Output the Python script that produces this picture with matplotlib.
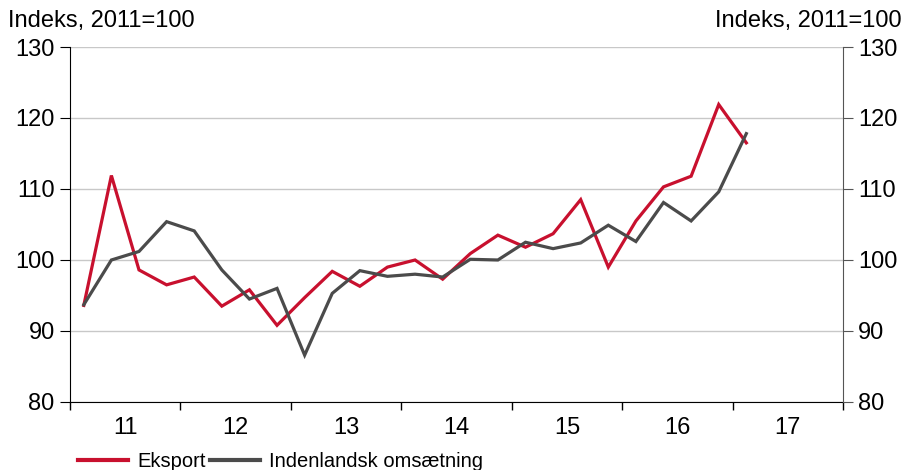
import matplotlib.pyplot as plt
from matplotlib.lines import Line2D

plt.rcParams['font.family'] = ['Liberation Sans', 'DejaVu Sans']

# quarterly, 2011Q1 - 2017Q1
years = [2011] * 4 + [2012] * 4 + [2013] * 4 + [2014] * 4 + [2015] * 4 + [2016] * 4 + [2017]
quarters = [1, 2, 3, 4] * 6 + [1]
eksport = [93.6, 111.9, 98.6, 96.5, 97.6, 93.5, 95.8, 90.8,
           94.7, 98.4, 96.3, 99.0, 100.0, 97.3, 100.9, 103.5,
           101.8, 103.7, 108.5, 99.0, 105.5, 110.3, 111.8, 121.9, 116.5]
indenlandsk = [93.7, 100.0, 101.2, 105.4, 104.1, 98.6, 94.5, 96.0,
               86.6, 95.3, 98.5, 97.7, 98.0, 97.6, 100.1, 100.0,
               102.5, 101.6, 102.4, 104.9, 102.6, 108.1, 105.5, 109.6, 117.8]
year_labels = ["11", "12", "13", "14", "15", "16", "17"]

x = [y + (q - 0.5) / 4 for y, q in zip(years, quarters)]

red = "#c8102e"
grey = "#4b4b4b"
fs = 17

fig = plt.figure(figsize=(9.03, 4.70), dpi=100)
ax = fig.add_axes([0.0775, 0.1447, 0.856, 0.7553])

ax.plot(x, eksport, color=red, lw=2.3, solid_joinstyle="miter", zorder=3)
ax.plot(x, indenlandsk, color=grey, lw=2.3, solid_joinstyle="miter", zorder=4)

ax.set_xlim(2011, 2018)
ax.set_ylim(80, 130)
ax.set_yticks(range(80, 131, 10))
ax.yaxis.grid(True, color="#c8c8c8", lw=1)
ax.set_axisbelow(True)

ax.set_xticks(range(2011, 2019))
ax.set_xticklabels([])
ax.set_xticks([2011.5 + i for i in range(7)], minor=True)
ax.set_xticklabels(year_labels, minor=True)
ax.tick_params(axis="x", which="major", length=6, direction="out", width=1)
ax.tick_params(axis="x", which="minor", length=0, pad=11, labelsize=fs)
ax.tick_params(axis="y", length=7, direction="out", labelsize=fs, pad=4)

for s in ["top", "right"]:
    ax.spines[s].set_visible(False)
ax.spines["left"].set_color("black")
ax.spines["bottom"].set_color("black")

ax2 = ax.twinx()
ax2.set_ylim(80, 130)
ax2.set_yticks(range(80, 131, 10))
ax2.tick_params(axis="y", length=7, direction="out", labelsize=fs, pad=4,
                color="#555555")
for s in ["top", "left", "bottom"]:
    ax2.spines[s].set_visible(False)
ax2.spines["right"].set_color("#555555")

fig.text(0.009, 0.955, "Indeks, 2011=100", fontsize=fs, ha="left", va="center")
fig.text(0.998, 0.955, "Indeks, 2011=100", fontsize=fs, ha="right", va="center")

handles = [Line2D([], [], color=red, lw=3), Line2D([], [], color=grey, lw=3)]
fig.legend(handles, ["Eksport", "Indenlandsk omsætning"], loc="center left",
           bbox_to_anchor=(0.086, 0.018), ncol=2, frameon=False, fontsize=14.5,
           borderpad=0, borderaxespad=0,
           handlelength=2.5, handletextpad=0.45, columnspacing=0.2)

fig.savefig("out.png", dpi=100)
